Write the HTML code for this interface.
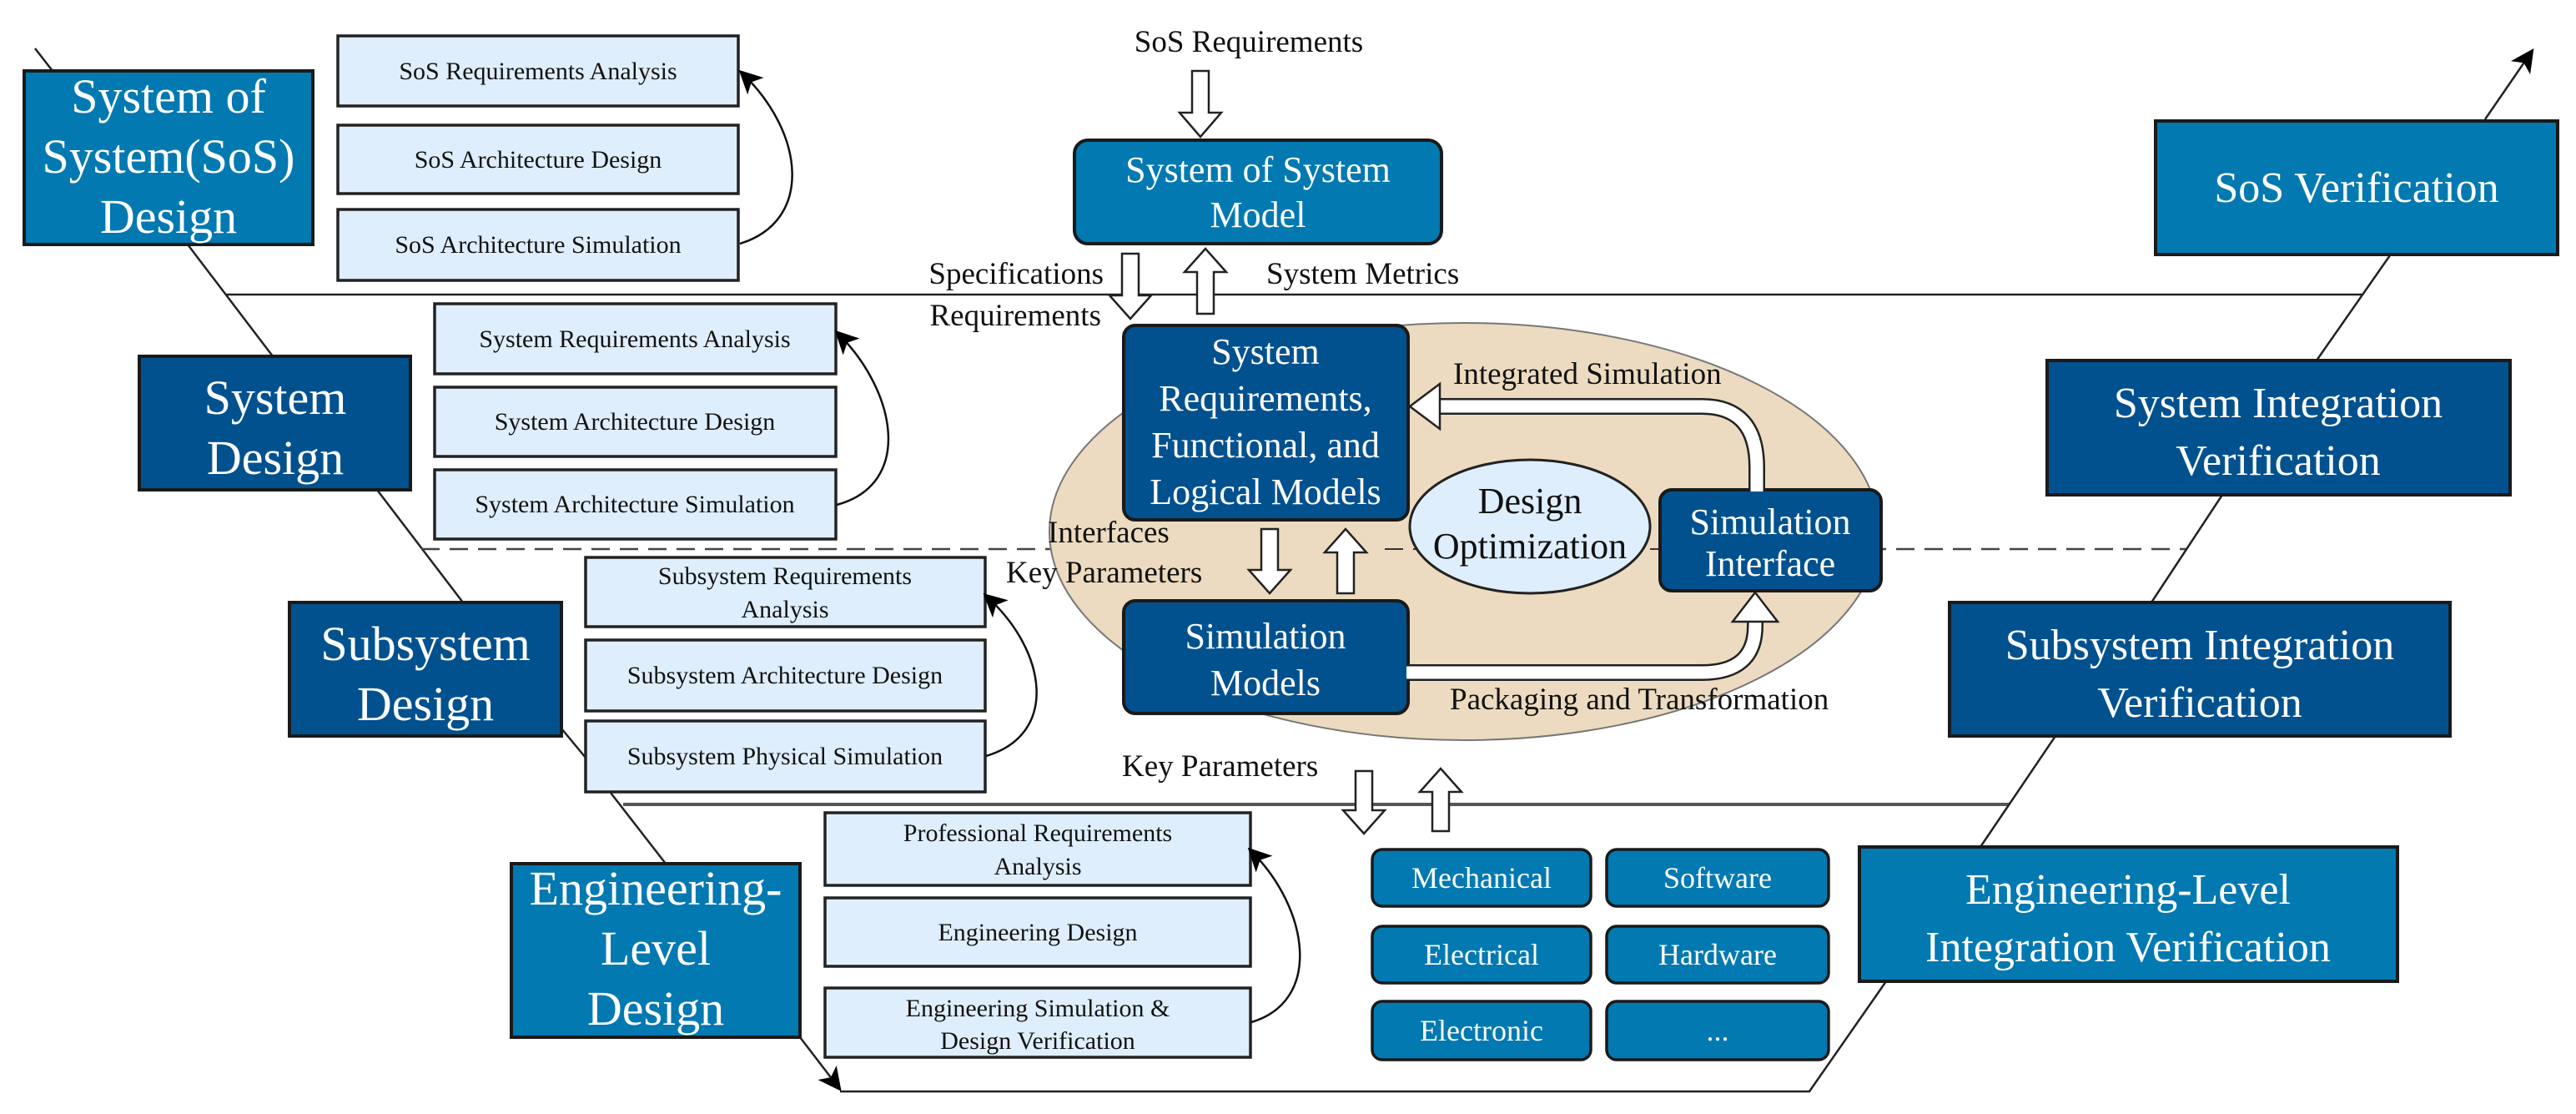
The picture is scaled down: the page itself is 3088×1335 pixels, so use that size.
<!DOCTYPE html>
<html><head><meta charset="utf-8"><style>
html,body{margin:0;padding:0;background:#fff;}
svg{display:block;}
text{font-family:"Liberation Serif",serif;}
</style></head><body>
<svg width="3088" height="1335" viewBox="0 0 3088 1335" xmlns="http://www.w3.org/2000/svg">
<defs>
<marker id="ah" markerWidth="10" markerHeight="10" refX="8" refY="5" orient="auto" markerUnits="userSpaceOnUse" viewBox="0 0 10 10">
<path d="M0,0 L10,5 L0,10 L3,5 z" fill="#000"/></marker>
<marker id="ah2" markerWidth="28" markerHeight="28" refX="22" refY="14" orient="auto" markerUnits="userSpaceOnUse" viewBox="0 0 28 28">
<path d="M0,0 L28,14 L0,28 L7,14 z" fill="#000"/></marker>
</defs>
<g stroke="#222" stroke-width="2.5" fill="none">
<!-- V lines left -->
<line x1="42" y1="58" x2="63" y2="85"/>
<line x1="225" y1="293" x2="327" y2="427"/>
<line x1="452" y1="587" x2="555" y2="722"/>
<line x1="673" y1="873" x2="702" y2="908"/>
<line x1="732" y1="950" x2="798" y2="1035"/>
<line x1="959" y1="1243" x2="1005" y2="1303" marker-end="url(#ah2)"/>
<!-- horizontals -->
<line x1="271" y1="353" x2="2832" y2="353"/>
<line x1="747" y1="964" x2="2408" y2="964" stroke="#555" stroke-width="4"/>
<polyline points="1007,1308 2169,1308 2261,1176"/>
<line x1="505" y1="658" x2="2621" y2="658" stroke-dasharray="22,12" stroke="#444"/>
<!-- right V -->
<line x1="2374" y1="1015" x2="2464" y2="882"/>
<line x1="2579" y1="722" x2="2664" y2="593"/>
<line x1="2777" y1="432" x2="2865" y2="306"/>
<line x1="2979" y1="143" x2="3034" y2="63" marker-end="url(#ah2)"/>
</g>

<!-- central ellipse -->
<ellipse cx="1755" cy="637" rx="497" ry="250" fill="#ecdbc0" stroke="#777" stroke-width="2"/>
<line x1="1978" y1="658" x2="1990" y2="658" stroke="#333" stroke-width="2"/>
<line x1="1660" y1="658" x2="1700" y2="658" stroke="#333" stroke-width="2" stroke-dasharray="22,12"/>

<!-- left phase boxes -->
<g stroke="#1a1a1a" stroke-width="4">
<rect x="29" y="85" width="346" height="208" fill="#0279b1"/>
<rect x="167" y="427" width="325" height="160" fill="#02518f"/>
<rect x="347" y="722" width="326" height="160" fill="#02518f"/>
<rect x="613" y="1035" width="346" height="208" fill="#0279b1"/>
<rect x="2584" y="145" width="482" height="160" fill="#0279b1"/>
<rect x="2454" y="432" width="555" height="161" fill="#02518f"/>
<rect x="2337" y="722" width="600" height="160" fill="#02518f"/>
<rect x="2229" y="1015" width="645" height="161" fill="#0279b1"/>
</g>
<g fill="#fff" font-size="58" text-anchor="middle">
<text x="202" y="135">System of</text>
<text x="202" y="207">System(SoS)</text>
<text x="202" y="279">Design</text>
<text x="330" y="496">System</text>
<text x="330" y="568">Design</text>
<text x="510" y="791">Subsystem</text>
<text x="510" y="863">Design</text>
<text x="786" y="1084">Engineering-</text>
<text x="786" y="1156">Level</text>
<text x="786" y="1228">Design</text>
</g>
<g fill="#fff" font-size="52" text-anchor="middle">
<text x="2825" y="242">SoS Verification</text>
<text x="2731" y="500">System Integration</text>
<text x="2731" y="569">Verification</text>
<text x="2637" y="790">Subsystem Integration</text>
<text x="2637" y="859">Verification</text>
<text x="2551" y="1083">Engineering-Level</text>
<text x="2551" y="1152">Integration Verification</text>
</g>

<!-- sub boxes -->
<g fill="#dfeefc" stroke="#222" stroke-width="3.5">
<rect x="405" y="43" width="480" height="84"/>
<rect x="405" y="150" width="480" height="82"/>
<rect x="405" y="251" width="480" height="85"/>
<rect x="521" y="364" width="481" height="84"/>
<rect x="521" y="464" width="481" height="83"/>
<rect x="521" y="563" width="481" height="83"/>
<rect x="702" y="668" width="479" height="83"/>
<rect x="702" y="767" width="479" height="85"/>
<rect x="702" y="864" width="479" height="85"/>
<rect x="989" y="974" width="510" height="87"/>
<rect x="989" y="1076" width="510" height="82"/>
<rect x="989" y="1184" width="510" height="83"/>
</g>
<g fill="#111" font-size="30" text-anchor="middle">
<text x="645" y="95">SoS Requirements Analysis</text>
<text x="645" y="201">SoS Architecture Design</text>
<text x="645" y="303">SoS Architecture Simulation</text>
<text x="761" y="416">System Requirements Analysis</text>
<text x="761" y="515">System Architecture Design</text>
<text x="761" y="614">System Architecture Simulation</text>
<text x="941" y="700">Subsystem Requirements</text>
<text x="941" y="740">Analysis</text>
<text x="941" y="819">Subsystem Architecture Design</text>
<text x="941" y="916">Subsystem Physical Simulation</text>
<text x="1244" y="1008">Professional Requirements</text>
<text x="1244" y="1048">Analysis</text>
<text x="1244" y="1127">Engineering Design</text>
<text x="1244" y="1218">Engineering Simulation &amp;</text>
<text x="1244" y="1257">Design Verification</text>
</g>
<!-- feedback curves -->
<g stroke="#111" stroke-width="2.5" fill="none">
<path d="M887,292 C975,265 965,160 890,88" marker-end="url(#ah2)"/>
<path d="M1003,605 C1095,580 1075,470 1005,400" marker-end="url(#ah2)"/>
<path d="M1182,906 C1270,880 1255,780 1183,715" marker-end="url(#ah2)"/>
<path d="M1500,1225 C1585,1200 1570,1090 1500,1020" marker-end="url(#ah2)"/>
</g>

<!-- center boxes -->
<g stroke="#1a1a1a" stroke-width="4">
<rect x="1288" y="168" width="440" height="124" rx="16" fill="#0279b1"/>
<rect x="1347" y="390" width="341" height="233" rx="14" fill="#02518f"/>
<rect x="1347" y="720" width="341" height="135" rx="14" fill="#02518f"/>
<rect x="1990" y="587" width="265" height="121" rx="14" fill="#02518f"/>
</g>
<ellipse cx="1834" cy="631" rx="144" ry="80" fill="#deeefc" stroke="#222" stroke-width="3"/>
<g fill="#fff" font-size="44" text-anchor="middle">
<text x="1508" y="218">System of System</text>
<text x="1508" y="272">Model</text>
<text x="1517" y="436">System</text>
<text x="1517" y="492">Requirements,</text>
<text x="1517" y="548">Functional, and</text>
<text x="1517" y="604">Logical Models</text>
<text x="1517" y="777">Simulation</text>
<text x="1517" y="833">Models</text>
<text x="2122" y="640">Simulation</text>
<text x="2122" y="690">Interface</text>
</g>
<g fill="#111" font-size="44" text-anchor="middle">
<text x="1834" y="615">Design</text>
<text x="1834" y="669">Optimization</text>
</g>

<!-- mech grid -->
<g stroke="#1a1a1a" stroke-width="3.5" fill="#0279b1">
<rect x="1645" y="1018" width="262" height="68" rx="12"/>
<rect x="1926" y="1018" width="266" height="68" rx="12"/>
<rect x="1645" y="1110" width="262" height="68" rx="12"/>
<rect x="1926" y="1110" width="266" height="68" rx="12"/>
<rect x="1645" y="1200" width="262" height="70" rx="12"/>
<rect x="1926" y="1200" width="266" height="70" rx="12"/>
</g>
<g fill="#fff" font-size="36" text-anchor="middle">
<text x="1776" y="1064">Mechanical</text>
<text x="2059" y="1064">Software</text>
<text x="1776" y="1156">Electrical</text>
<text x="2059" y="1156">Hardware</text>
<text x="1776" y="1247">Electronic</text>
<text x="2059" y="1247">...</text>
</g>

<!-- hollow straight arrows -->
<g fill="#fff" stroke="#222" stroke-width="2.5">
<path d="M1429,85 h20 v50 h15 l-25,29 l-25,-29 h15 z"/>
<path d="M1345,304 h20 v50 h15 l-25,28 l-25,-28 h15 z"/>
<path d="M1435,376 h20 v-50 h15 l-25,-28 l-25,28 h15 z"/>
<path d="M1512,634 h20 v49 h15 l-25,28 l-25,-28 h15 z"/>
<path d="M1603,711 h20 v-49 h15 l-25,-28 l-25,28 h15 z"/>
<path d="M1625,924 h20 v47 h15 l-25,28 l-25,-28 h15 z"/>
<path d="M1717,996 h20 v-47 h15 l-25,-28 l-25,28 h15 z"/>
</g>
<!-- curved hollow arrows -->
<g fill="none">
<path d="M2106,587 V560 Q2106,487 2040,487 H1722" stroke="#222" stroke-width="20"/>
<path d="M2106,589 V560 Q2106,487 2040,487 H1720" stroke="#fff" stroke-width="15"/>
<path d="M1688,806 H2040 Q2104,806 2104,750 V742" stroke="#222" stroke-width="20"/>
<path d="M1686,806 H2040 Q2104,806 2104,750 V740" stroke="#fff" stroke-width="15"/>
</g>
<path d="M1726,460 L1690,487 L1726,514 z" fill="#fff" stroke="#222" stroke-width="2.5"/>
<path d="M2077,745 L2104,710 L2131,745 z" fill="#fff" stroke="#222" stroke-width="2.5"/>

<!-- labels -->
<g fill="#111" font-size="37">
<text x="1497" y="62" text-anchor="middle">SoS Requirements</text>
<text x="1323" y="340" text-anchor="end">Specifications</text>
<text x="1320" y="390" text-anchor="end">Requirements</text>
<text x="1518" y="340">System Metrics</text>
<text x="1742" y="460">Integrated Simulation</text>
<text x="1256" y="650">Interfaces</text>
<text x="1206" y="698">Key Parameters</text>
<text x="1738" y="850">Packaging and Transformation</text>
<text x="1345" y="930">Key Parameters</text>
</g>
</svg>
</body></html>
